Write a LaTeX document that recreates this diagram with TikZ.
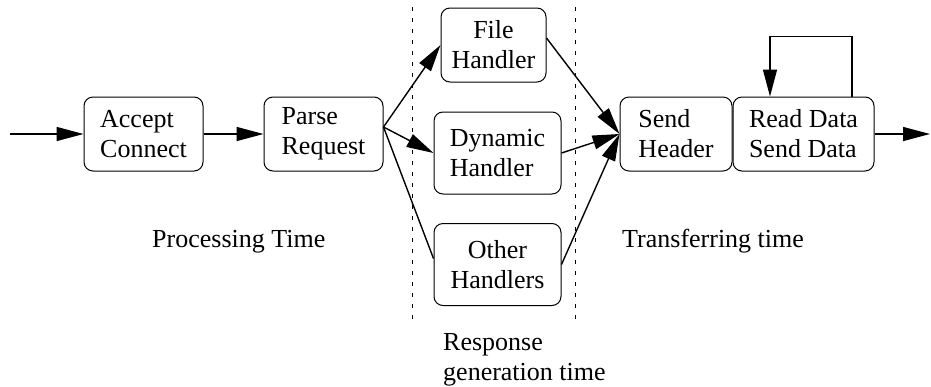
\documentclass[tikz,border=0pt]{standalone}
\usepackage{fontspec}
\setmainfont{Liberation Serif}
\usepackage{tikz}
\usetikzlibrary{arrows.meta,positioning,calc}

\begin{document}
\begin{tikzpicture}[
  x=1pt,y=-1pt,
  font=\fontsize{26}{30}\selectfont,
  >={Triangle[length=27pt,width=14pt]},
  stage/.style={draw,line width=1pt,rounded corners=9pt,inner sep=0pt,align=left,minimum height=74pt},
  handler/.style={stage,minimum width=127pt,minimum height=82pt},
  flow/.style={line width=1.4pt,->},
  phase/.style={dash pattern=on 4pt off 7pt,line width=1pt},
  caption/.style={inner sep=0pt,anchor=base west},
]
\useasboundingbox (0,0) rectangle (931,386);

% main row
\node[stage,minimum width=119pt] (accept) at (143.5,134) {Accept\\Connect};
\node[stage,minimum width=119pt,right=60pt of accept] (parse) {Parse\\Request};

% handlers
\node[stage,minimum width=105pt,align=center] (file) at (493.5,45) {File\\Handler};
\node[handler] (dynamic) at (497.5,153) {Dynamic\\Handler};
\node[handler,align=center] (other) at (497.5,264.5) {Other\\Handlers};

% transfer
\node[stage,minimum width=112pt] (send) at (676,134) {Send\\Header};
\node[stage,minimum width=141pt,right=0pt of send] (read) {Read Data\\Send Data};

\coordinate (in) at (10,134);
\coordinate (out) at (930,134);

\draw[flow] (in) -- (accept.west);
\draw[flow] (accept.east) -- (parse.west);
\draw[flow] ([yshift=7pt]parse.east) -- (file.west);
\draw[flow] ([yshift=7pt]parse.east) -- (dynamic.west);
\draw[line width=1.4pt] ([yshift=7pt]parse.east) -- ([yshift=6pt]other.west);
\draw[flow] ([yshift=7pt]file.east) -- (send.west);
\draw[flow] (dynamic.east) -- (send.west);
\draw[flow] (other.east) -- (send.west);
\draw[flow] (read.east) -- (out);
\draw[flow] ([xshift=48.5pt]read.north) -- ++(0,-60) -| ([xshift=-33.5pt]read.north);

% phase borders
\draw[phase] (412,7) -- (412,320);
\draw[phase] (575,7) -- (575,320);

\node[caption] (proc) at (152,247) {Processing Time};
\node[caption] (trans) at (622,247) {Transferring time};
\node[caption,anchor=north west,align=left] (resp) at (443,333) {Response\\generation time};
\end{tikzpicture}
\end{document}
